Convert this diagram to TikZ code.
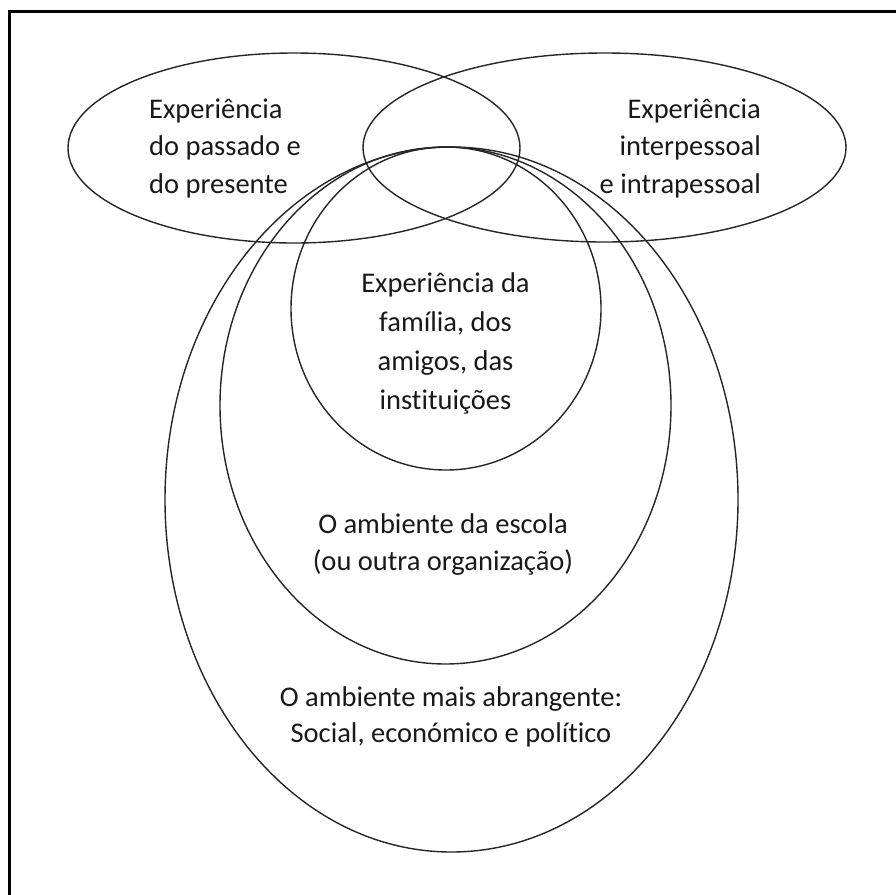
\documentclass[tikz,border=0pt]{standalone}
\usepackage{fontspec}
\setmainfont{Carlito}[Ligatures=NoCommon]
\begin{document}
\begin{tikzpicture}[x=1pt,y=-1pt,
  ring/.style={draw=black!85, line width=1.4pt},
  label/.style={inner sep=0pt, font=\fontsize{28.5}{37.5}\selectfont, text=black!90}]
\useasboundingbox (0,0) rectangle (896,894);
\clip (0,0) rectangle (896,894);
\fill[white] (0,0) rectangle (896,894);
% outer frame (only its left and top sides fall on the page)
\draw[line width=3pt] (9.5,11) rectangle (910,910);
% two overlapping horizontal ellipses at the top
\draw[ring] (294,148) ellipse [x radius=226, y radius=95];
\draw[ring] (604.5,147.5) ellipse [x radius=241.5, y radius=94.5];
% three nested ellipses sharing a common top point
\draw[ring] (451.5,499.5) ellipse [x radius=286.5, y radius=352.5];
\draw[ring] (445.5,405.5) ellipse [x radius=225.5, y radius=258.5];
\draw[ring] (446,308.5) ellipse [x radius=155, y radius=161.5];
% labels (anchored at the baseline of their last line)
\node[label, anchor=base west, align=left] (past) at (149,193)
  {Experiência\\do passado e\\do presente};
\node[label, anchor=base east, align=right] (inter) at (761,193)
  {Experiência\\interpessoal\\e intrapessoal};
\node[label, anchor=base, align=center,
      font=\fontsize{28.5}{38.7}\selectfont] (family) at (445.5,409)
  {Experiência da\\família, dos\\amigos, das\\instituições};
\node[label, anchor=base, align=center,
      font=\fontsize{28.5}{37}\selectfont] (school) at (443,570)
  {O ambiente da escola\\(ou outra organização)};
\node[label, anchor=base, align=center,
      font=\fontsize{28.5}{35.5}\selectfont] (wider) at (451,742)
  {O ambiente mais abrangente:\\Social, económico e político};
\end{tikzpicture}
\end{document}
